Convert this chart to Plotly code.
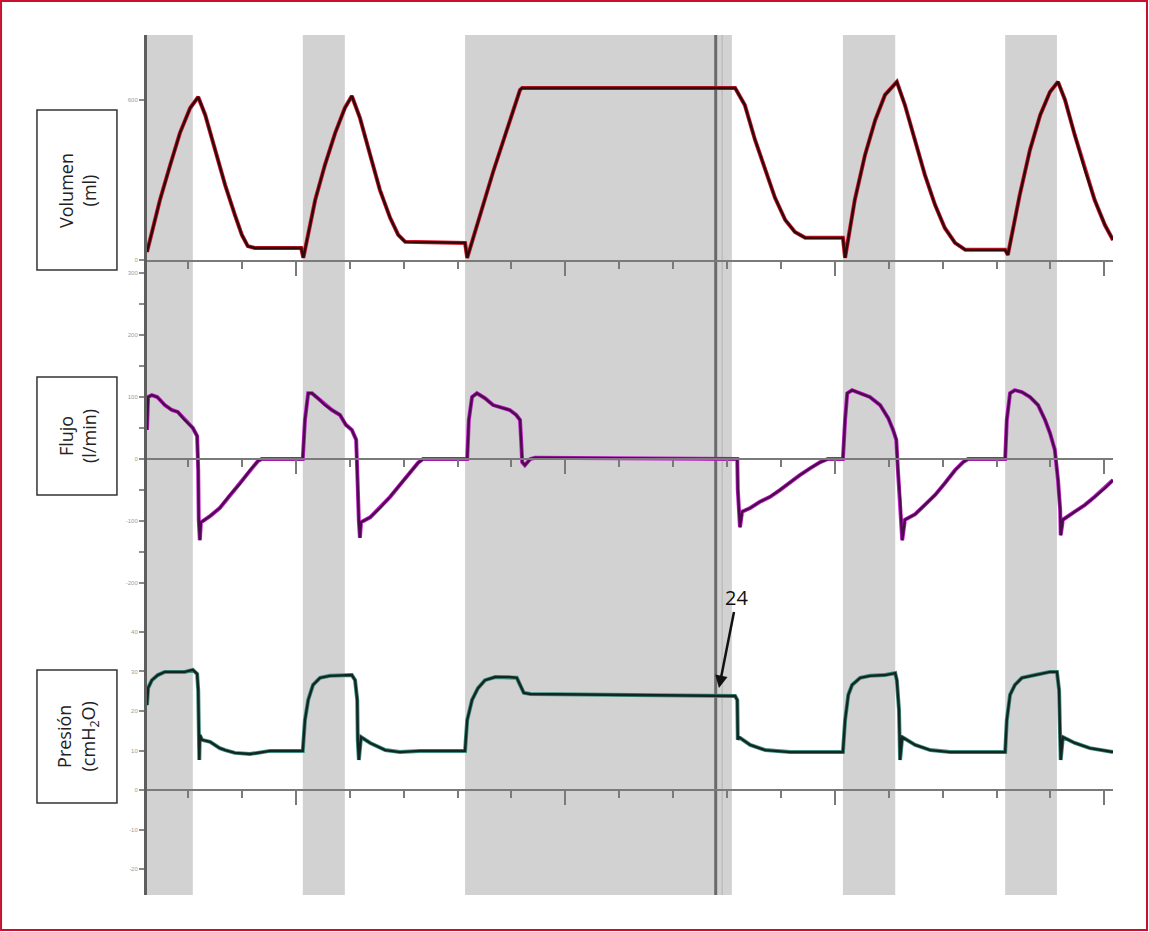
import plotly.graph_objects as go

# time axis in tick units (one small tick per unit, long tick every 5)
T_RANGE = [0.24, 18.16]

# inspiratory periods (grey bands), start/end in tick units
band_start = [0.24, 3.13, 6.14, 13.15, 16.16]
band_end = [1.09, 3.91, 11.09, 14.12, 17.12]
cursor_t = 10.79

# volume (ml)
vol_t = [0.24, 0.48, 0.67, 0.85, 1.04, 1.19, 1.32, 1.50, 1.69, 1.87, 2.00, 2.11, 2.24, 3.10,
         3.14, 3.36, 3.54, 3.73, 3.91, 4.04, 4.19, 4.38, 4.56, 4.75, 4.90, 5.03, 6.14,
         6.18, 6.66, 7.16, 7.20, 11.15, 11.33, 11.52, 11.71, 11.89, 12.08, 12.26, 12.45, 13.15,
         13.19, 13.37, 13.56, 13.75, 13.93, 14.15, 14.30, 14.49, 14.67, 14.86, 15.04, 15.23, 15.42, 16.16,
         16.21, 16.43, 16.62, 16.81, 16.99, 17.14, 17.27, 17.45, 17.64, 17.82, 18.01, 18.16]
vol_ml = [30, 225, 356, 476, 570, 611, 544, 413, 281, 169, 94, 52, 45, 45,
          8, 225, 356, 476, 570, 615, 533, 394, 263, 158, 94, 68, 64,
          8, 330, 638, 645, 645, 581, 450, 338, 233, 150, 105, 83, 83,
          8, 225, 394, 525, 619, 668, 581, 450, 319, 206, 120, 64, 38, 38,
          19, 244, 413, 544, 630, 668, 600, 469, 338, 225, 131, 75]

# flow (l/min)
flow_t = [0.24, 0.26, 0.33, 0.43, 0.57, 0.70, 0.81, 0.94, 1.09, 1.17, 1.19, 1.20, 1.22, 1.24, 1.28,
          1.41, 1.59, 1.78, 1.97, 2.15, 2.30, 2.37, 3.13,
          3.17, 3.23, 3.30, 3.41, 3.54, 3.67, 3.82, 3.93, 4.04, 4.12, 4.14, 4.15, 4.17, 4.19, 4.21,
          4.38, 4.56, 4.75, 4.93, 5.12, 5.27, 5.36, 6.14,
          6.18, 6.21, 6.27, 6.36, 6.51, 6.66, 6.83, 6.97, 7.09, 7.16, 7.18, 7.20, 7.25, 7.35, 7.44, 11.15,
          11.19, 11.20, 11.22, 11.24, 11.28, 11.43, 11.61, 11.80, 11.98, 12.17, 12.35, 12.54, 12.73, 12.87, 13.15,
          13.19, 13.23, 13.32, 13.47, 13.65, 13.84, 13.99, 14.08, 14.14, 14.17, 14.21, 14.25, 14.30,
          14.49, 14.67, 14.86, 15.04, 15.23, 15.38, 15.47, 16.16,
          16.19, 16.25, 16.34, 16.47, 16.62, 16.77, 16.90, 16.99, 17.08, 17.14, 17.18, 17.19, 17.23,
          17.45, 17.64, 17.82, 18.01, 18.16]
flow_lmin = [47, 100, 103, 100, 87, 79, 76, 63, 50, 37, -18, -98, -131, -102, -100,
             -92, -79, -58, -39, -18, -3, 0, 0,
             63, 106, 106, 98, 87, 79, 71, 55, 47, 31, -18, -66, -100, -127, -102,
             -94, -79, -61, -42, -23, -6, 0, 0,
             0, 63, 100, 106, 98, 87, 82, 79, 71, 63, 31, -5, -10, 0, 2, 0,
             0, -50, -85, -110, -85, -79, -69, -61, -50, -37, -26, -15, -5, 0, 0,
             63, 106, 111, 106, 100, 87, 66, 47, 31, -18, -66, -131, -98,
             -89, -74, -58, -39, -18, -5, 0, 0,
             63, 106, 111, 108, 100, 87, 63, 42, 15, -34, -82, -123, -98,
             -85, -74, -61, -47, -34]

# pressure (cmH2O)
pres_t = [0.24, 0.26, 0.33, 0.44, 0.57, 0.76, 0.94, 1.09, 1.17, 1.19, 1.20, 1.21, 1.22, 1.26,
          1.41, 1.59, 1.69, 1.87, 2.15, 2.52, 2.80, 3.13,
          3.17, 3.23, 3.32, 3.45, 3.63, 3.91, 4.04, 4.10, 4.14, 4.15, 4.17, 4.21,
          4.38, 4.66, 4.93, 5.30, 6.14,
          6.18, 6.27, 6.38, 6.51, 6.70, 6.97, 7.10, 7.16, 7.23, 7.35, 8.64, 10.50, 11.15,
          11.19, 11.20, 11.22, 11.43, 11.71, 12.17, 13.15,
          13.19, 13.25, 13.32, 13.47, 13.65, 13.93, 14.12, 14.15, 14.19, 14.21, 14.25,
          14.49, 14.77, 15.14, 16.16,
          16.19, 16.25, 16.34, 16.47, 16.71, 16.99, 17.12, 17.16, 17.18, 17.19, 17.23,
          17.45, 17.73, 18.16]
pres_cmh2o = [21.5, 25.8, 27.8, 29.1, 29.9, 29.9, 29.9, 30.4, 29.4, 25.3, 12.7, 7.6, 13.9, 12.7,
              12.2, 10.6, 10.1, 9.4, 9.1, 9.9, 9.9, 9.9,
              17.7, 22.8, 26.6, 28.4, 28.9, 29.1, 29.1, 27.8, 22.8, 12.7, 7.6, 13.4,
              11.9, 10.1, 9.6, 9.9, 9.9,
              17.7, 22.8, 25.8, 27.8, 28.6, 28.6, 28.4, 26.6, 24.6, 24.3, 24.1, 23.8, 23.8,
              22.8, 12.7, 13.4, 11.4, 10.1, 9.6, 9.6,
              17.7, 24.1, 26.6, 28.4, 28.9, 29.1, 29.6, 27.8, 20.3, 7.6, 13.4,
              11.4, 10.1, 9.6, 9.6,
              17.7, 24.1, 26.6, 28.4, 29.1, 29.9, 29.9, 25.3, 12.7, 7.6, 13.4,
              11.9, 10.6, 9.6]

vol_ticks = [0, 600]
flow_ticks = [-200, -100, 0, 100, 200, 300]
pres_ticks = [-20, -10, 0, 10, 20, 30, 40]


def add_signal(fig, t, v, row, outer, inner):
    xa = 'x' if row == 1 else 'x%d' % row
    ya = 'y' if row == 1 else 'y%d' % row
    fig.add_trace(go.Scatter(x=t, y=v, mode='lines', xaxis=xa, yaxis=ya,
                             line=dict(color=outer, width=4), hoverinfo='skip'))
    fig.add_trace(go.Scatter(x=t, y=v, mode='lines', xaxis=xa, yaxis=ya,
                             line=dict(color=inner, width=2.4), hoverinfo='skip'))


def label_box(fig, y0, y1, text):
    fig.add_shape(type='rect', xref='paper', yref='paper', x0=-0.1139, x1=-0.0311, y0=y0, y1=y1,
                  line=dict(color='#333333', width=1.5), fillcolor='white')
    fig.add_annotation(xref='paper', yref='paper', x=-0.0725, y=(y0 + y1) / 2, text=text,
                       textangle=-90, showarrow=False, xanchor='center', yanchor='middle',
                       font=dict(family='Open Sans', size=18, color='#222222'))


def main():
    fig = go.Figure()
    add_signal(fig, vol_t, vol_ml, 1, '#d4142a', '#2a0a0a')
    add_signal(fig, flow_t, flow_lmin, 2, '#c41ccf', '#4a0d4a')
    add_signal(fig, pres_t, pres_cmh2o, 3, '#3f8f82', '#142622')

    for a, b in zip(band_start, band_end):
        fig.add_shape(type='rect', xref='x', yref='paper', x0=a, x1=b, y0=0, y1=1,
                      fillcolor='#d2d2d2', line=dict(width=0), layer='below')
    fig.add_shape(type='line', xref='x', yref='paper', x0=cursor_t, x1=cursor_t, y0=0, y1=1,
                  line=dict(color='#6a6a6a', width=3), layer='below')
    fig.add_shape(type='line', xref='x', yref='paper', x0=cursor_t + 0.12, x1=cursor_t + 0.12, y0=0, y1=1,
                  line=dict(color='#bdbdbd', width=1.5), layer='below')

    xcommon = dict(domain=[0, 1], range=T_RANGE, showline=True, linecolor='#7a7a7a', linewidth=2,
                   ticks='outside', tickmode='linear', tick0=3, dtick=5, ticklen=14, tickwidth=2,
                   tickcolor='#7a7a7a', showticklabels=False, showgrid=False, zeroline=False,
                   minor=dict(ticks='outside', tick0=0, dtick=1, ticklen=7, tickwidth=2,
                              tickcolor='#7a7a7a', showgrid=False))
    ycommon = dict(showline=True, linecolor='#5e5e5e', linewidth=3, ticks='outside', ticklen=5,
                   tickwidth=1.5, tickcolor='#8a8a8a', showgrid=False, zeroline=False,
                   tickfont=dict(family='Liberation Sans', size=6, color='#9c9c9c'))

    fig.update_layout(
        width=1149, height=932,
        margin=dict(l=147, r=36, t=35, b=37),
        plot_bgcolor='white', paper_bgcolor='white',
        showlegend=False,
        xaxis=dict(xcommon, anchor='y'),
        xaxis2=dict(xcommon, anchor='free', position=0.50698, matches='x'),
        xaxis3=dict(xcommon, anchor='free', position=0.12209, matches='x'),
        yaxis=dict(ycommon, domain=[0.7384, 1], range=[0, 843.75], anchor='x',
                   tickvals=vol_ticks, ticktext=[str(v) for v in vol_ticks]),
        yaxis2=dict(ycommon, domain=[0.3314, 0.7384], range=[-243.5, 321], anchor='x2',
                    tickvals=flow_ticks, ticktext=[str(v) for v in flow_ticks],
                    minor=dict(ticks='outside', tick0=50, dtick=100, ticklen=5, tickwidth=1.5,
                               tickcolor='#8a8a8a', showgrid=False)),
        yaxis3=dict(ycommon, domain=[0, 0.3314], range=[-26.58, 45.57], anchor='x3',
                    tickvals=pres_ticks, ticktext=[str(v) for v in pres_ticks]),
    )

    label_box(fig, 0.7267, 0.9128, 'Volumen<br>(ml)')
    label_box(fig, 0.4651, 0.6023, 'Flujo<br>(l/min)')
    label_box(fig, 0.1070, 0.2616, 'Presión<br>(cmH<sub>2</sub>O)')

    fig.add_annotation(xref='x3', yref='y3', x=10.85, y=25.8, text='24', showarrow=True,
                       arrowhead=2, arrowsize=1, arrowwidth=2.5, arrowcolor='#111111',
                       ax=18, ay=-91, standoff=0,
                       font=dict(family='Open Sans', size=20, color='#111111'))

    # red frame round the whole figure
    fig.add_shape(type='rect', xref='paper', yref='paper', x0=-0.1511, x1=1.0352, y0=-0.0407, y1=1.0395,
                  line=dict(color='#c8102e', width=2), fillcolor='rgba(0,0,0,0)')

    fig.write_html("out.html", config={'displayModeBar': False},
                   post_script="document.body.style.margin='0';")


if __name__ == '__main__':
    main()
